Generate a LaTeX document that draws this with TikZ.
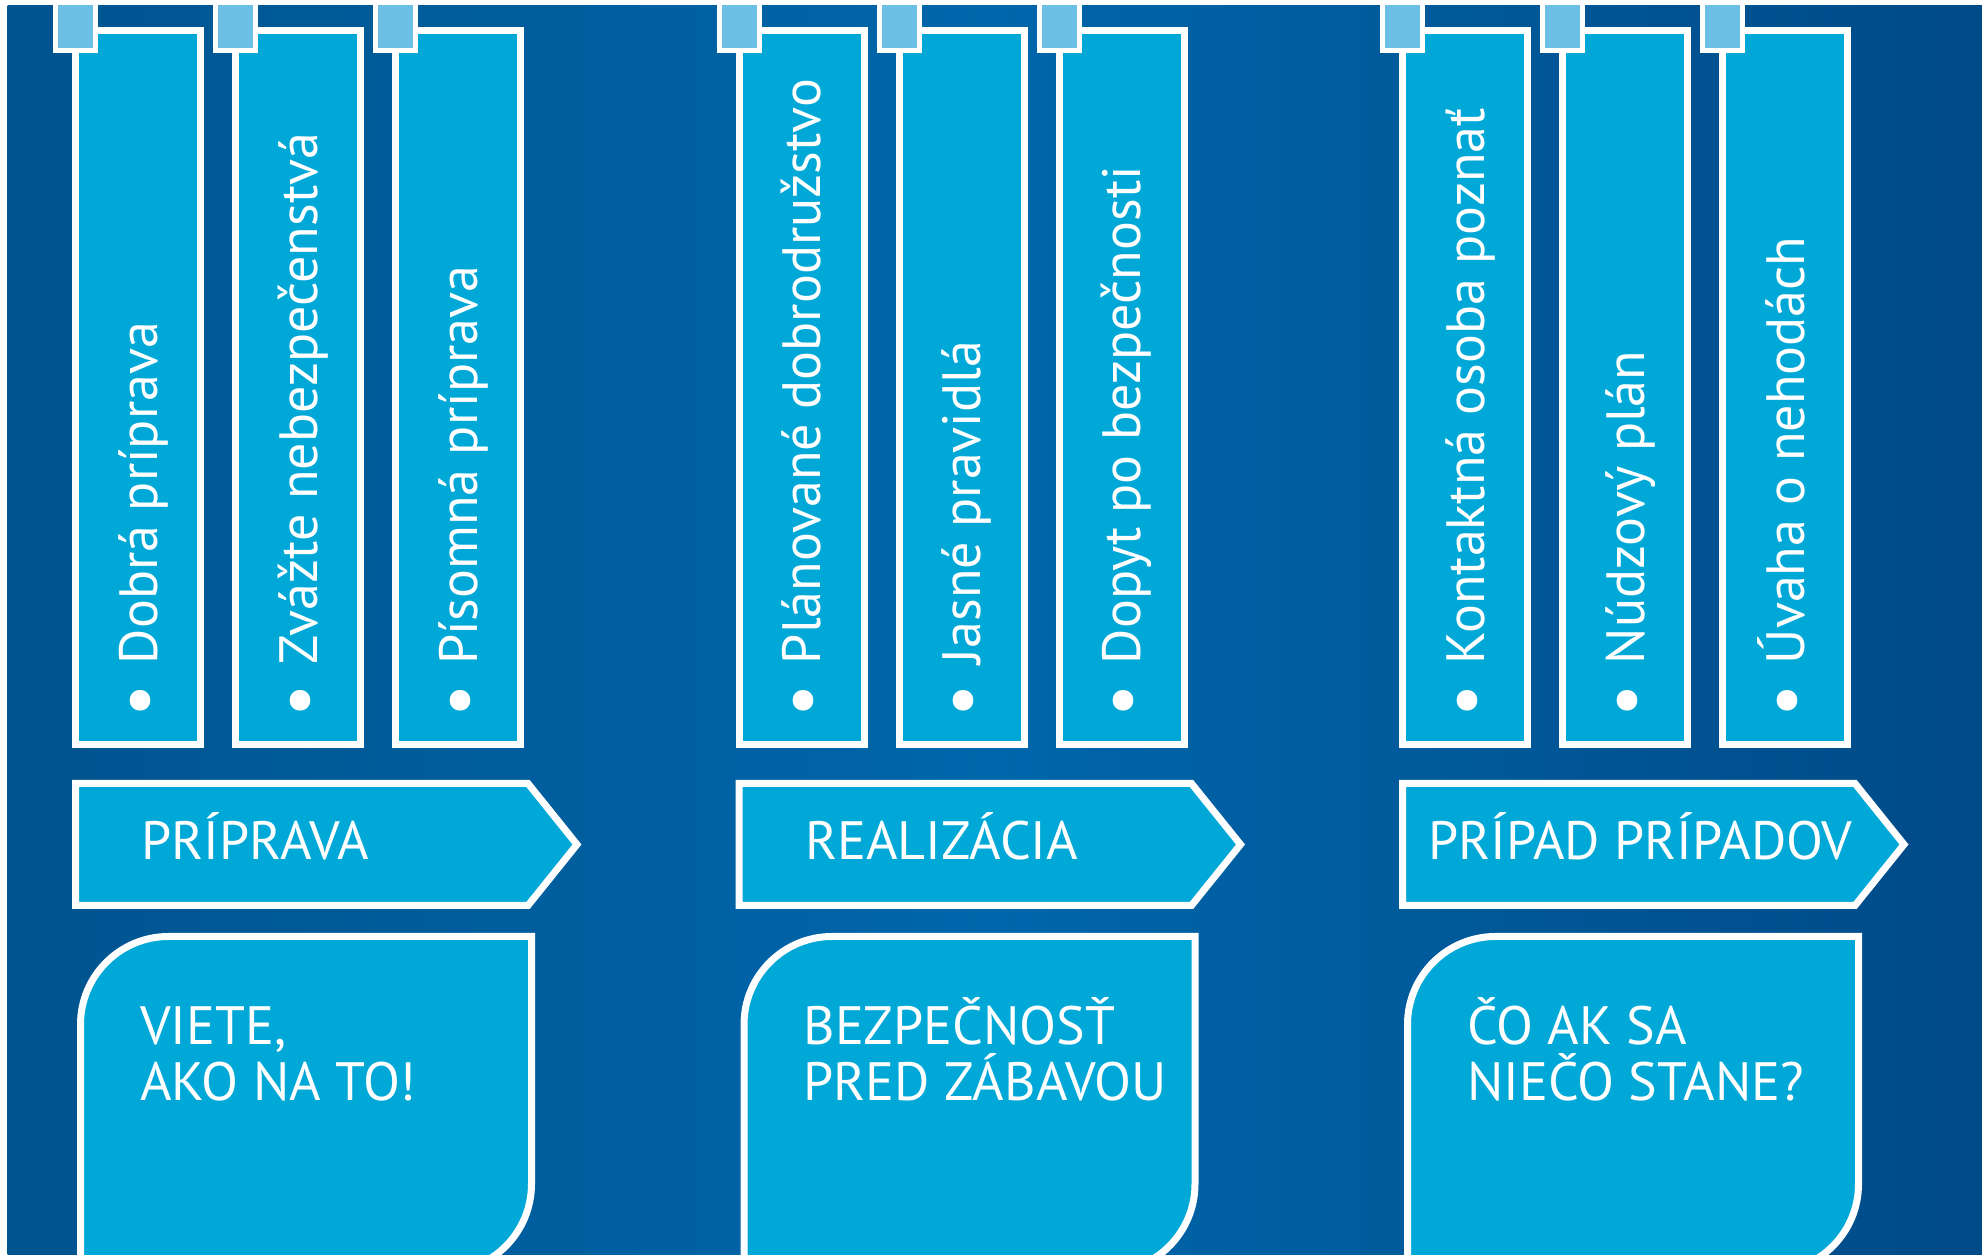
\documentclass[tikz,border=0pt]{standalone}
\usepackage{fontspec}
\setmainfont{PT Sans}
\usetikzlibrary{positioning, calc}

\definecolor{bgleft}{HTML}{00548F}
\definecolor{bgmid}{HTML}{0066AB}
\definecolor{bgright}{HTML}{004A87}
\definecolor{slotblue}{HTML}{00A8D8}
\definecolor{tabblue}{HTML}{6CC0E5}

\newcommand{\dotmark}{{\fontsize{74}{56}\selectfont\raisebox{-6pt}{•}}\hspace{20pt}}

\begin{document}
\begin{tikzpicture} [x = 1pt, y = 1pt, line width = 7pt, node distance = 160pt,
  slot/.style = {draw = white, fill = slotblue, rectangle, inner sep = 0pt, outer sep = 0pt, minimum width = 125pt, minimum height = 714pt},
  tab/.style = {draw = white, fill = tabblue, line width = 5pt, inner sep = 0pt, outer sep = 0pt, minimum width = 40pt, minimum height = 50pt},
  item/.style = {text = white, inner sep = 0pt, rotate = 90, anchor = base west, font = \fontsize{54}{56}\selectfont},
  phase/.style = {draw = white, fill = slotblue, line join = miter},
  phasetext/.style = {text = white, inner sep = 0pt, anchor = base west, font = \fontsize{54}{56}\selectfont},
  card/.style = {draw = white, fill = slotblue},
  cardtext/.style = {text = white, inner sep = 0pt, anchor = base west, align = left, font = \fontsize{54}{56}\selectfont}]

\useasboundingbox (0,0) rectangle (1982,1255);
\clip (7.5,0) rectangle (1982,1249);
\shade [left color = bgleft, right color = bgright, middle color = bgmid] (7.5,0) rectangle (1982,1249);

\node [slot] (b1) at (138,867.5) {};
\node [slot] (b2) [right of = b1] {};
\node [slot] (b3) [right of = b2] {};
\node [slot] (b4) at (801.5,867.5) {};
\node [slot] (b5) [right of = b4] {};
\node [slot] (b6) [right of = b5] {};
\node [slot] (b7) at (1465,867.5) {};
\node [slot] (b8) [right of = b7] {};
\node [slot] (b9) [right of = b8] {};

\node [tab] (s1) at ($(b1.north west)+(0,5)$) {};
\node [tab] (s2) at ($(b2.north west)+(0,5)$) {};
\node [tab] (s3) at ($(b3.north west)+(0,5)$) {};
\node [tab] (s4) at ($(b4.north west)+(0,5)$) {};
\node [tab] (s5) at ($(b5.north west)+(0,5)$) {};
\node [tab] (s6) at ($(b6.north west)+(0,5)$) {};
\node [tab] (s7) at ($(b7.north west)+(0,5)$) {};
\node [tab] (s8) at ($(b8.north west)+(0,5)$) {};
\node [tab] (s9) at ($(b9.north west)+(0,5)$) {};

\node [item] (t1) at ($(b1.south)+(19,23.5)$) {\dotmark Dobrá príprava};
\node [item] (t2) at ($(b2.south)+(19,23.5)$) {\dotmark Zvážte nebezpečenstvá};
\node [item] (t3) at ($(b3.south)+(19,23.5)$) {\dotmark Písomná príprava};
\node [item] (t4) at ($(b4.south)+(19,23.5)$) {\dotmark Plánované dobrodružstvo};
\node [item] (t5) at ($(b5.south)+(19,23.5)$) {\dotmark Jasné pravidlá};
\node [item] (t6) at ($(b6.south)+(19,23.5)$) {\dotmark Dopyt po bezpečnosti};
\node [item] (t7) at ($(b7.south)+(19,23.5)$) {\dotmark Kontaktná osoba poznať};
\node [item] (t8) at ($(b8.south)+(19,23.5)$) {\dotmark Núdzový plán};
\node [item] (t9) at ($(b9.south)+(19,23.5)$) {\dotmark Úvaha o nehodách};

\draw [phase] (75.5,471.5) -- (528,471.5) -- (577,410.5) -- (528,349.5) -- (75.5,349.5) -- cycle;
\draw [phase] (739,471.5) -- (1191.5,471.5) -- (1240.5,410.5) -- (1191.5,349.5) -- (739,349.5) -- cycle;
\draw [phase] (1402.5,471.5) -- (1855,471.5) -- (1904,410.5) -- (1855,349.5) -- (1402.5,349.5) -- cycle;

\node [phasetext] (p1) at (138,395) {PRÍPRAVA};
\node [phasetext] (p2) at (801.5,395) {REALIZÁCIA};
\node [phasetext] (p3) at (1425,395) {PRÍPAD PRÍPADOV};

\draw [card] (80.5,-17) -- (80.5,230.5) arc (180:90:88) -- (531.5,318.5) -- (531.5,71) arc (0:-90:88) -- cycle;
\draw [card] (744,-17) -- (744,230.5) arc (180:90:88) -- (1195,318.5) -- (1195,71) arc (0:-90:88) -- cycle;
\draw [card] (1407.5,-17) -- (1407.5,230.5) arc (180:90:88) -- (1858.5,318.5) -- (1858.5,71) arc (0:-90:88) -- cycle;

\node [cardtext] (c1) at (136.5,154) {VIETE,\\AKO NA TO!};
\node [cardtext] (c2) at (800,154) {BEZPEČNOSŤ\\PRED ZÁBAVOU};
\node [cardtext] (c3) at (1463.5,154) {ČO AK SA\\NIEČO STANE?};

\end{tikzpicture}
\end{document}
